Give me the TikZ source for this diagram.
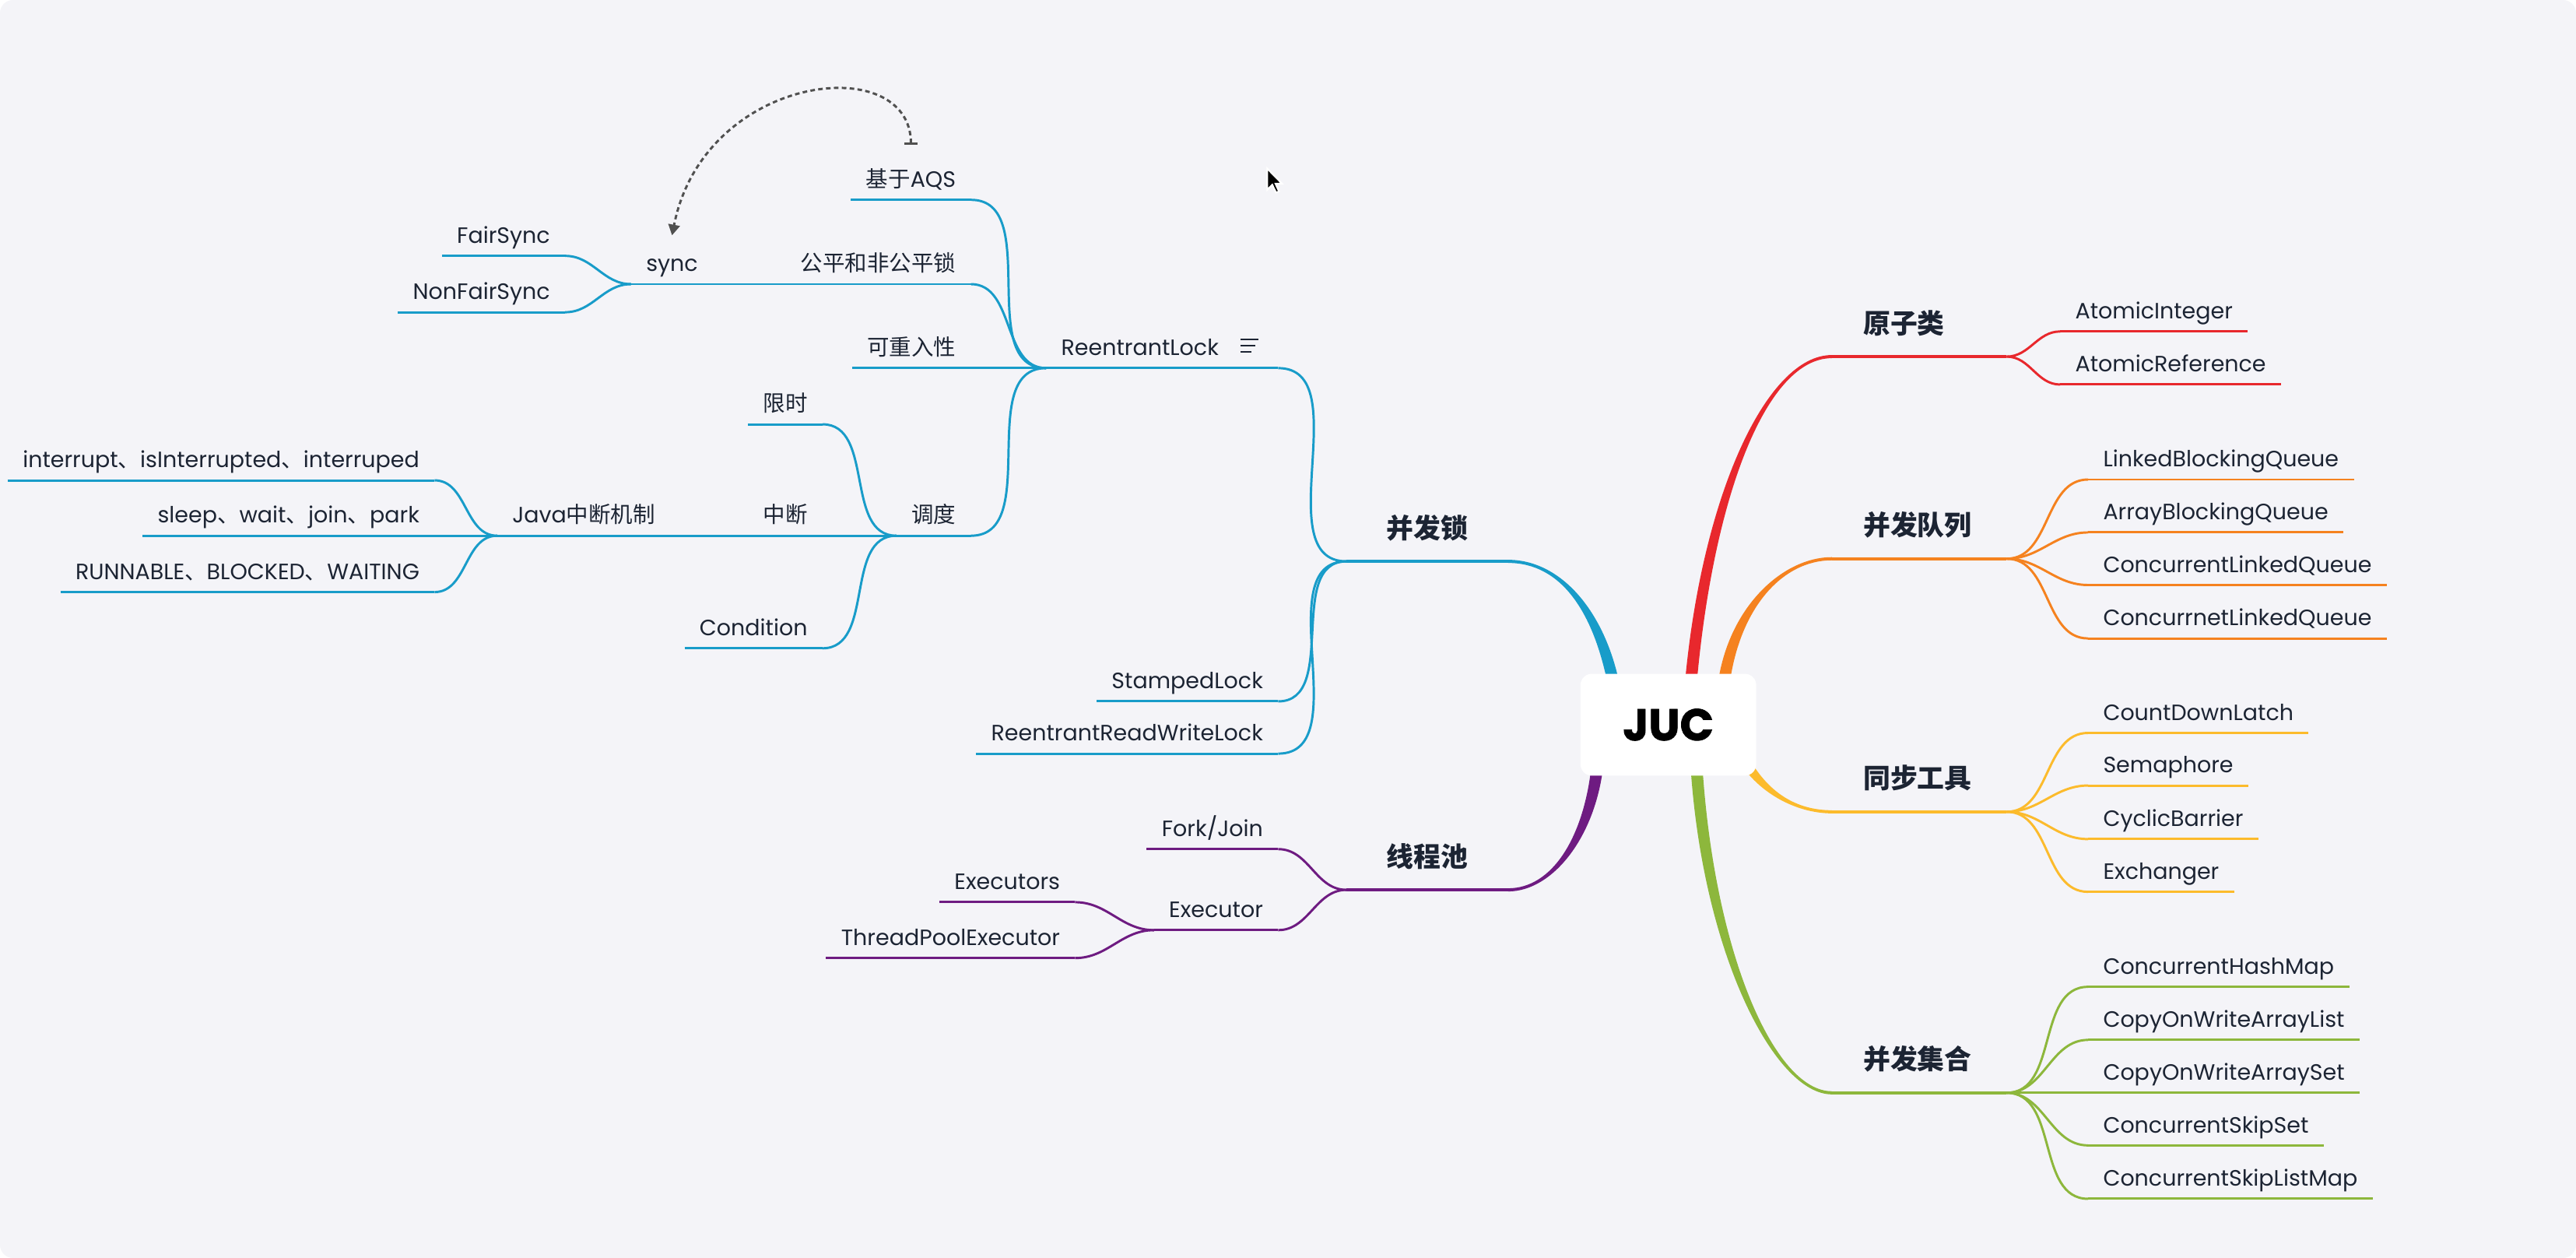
\documentclass[tikz,border=0pt]{standalone}
\usepackage{fontspec}
\setmainfont{Poppins}
\newfontfamily\cjk{Noto Sans CJK SC}
\newfontfamily\heavy[BoldFeatures={FakeBold=1.5}]{Poppins}
\usetikzlibrary{arrows.meta,calc}

\definecolor{bgcol}{HTML}{F4F4F8}
\definecolor{ink}{HTML}{1C2433}
\definecolor{cblue}{HTML}{189CC9}
\definecolor{cred}{HTML}{E8282D}
\definecolor{corange}{HTML}{F5821F}
\definecolor{cyellow}{HTML}{FCBB2C}
\definecolor{cgreen}{HTML}{8DB73C}
\definecolor{cpurple}{HTML}{6E1B81}
\definecolor{cdash}{HTML}{505050}

\newcommand{\zh}[1]{{\cjk #1}}
%tapered main branch: colour, side, start, control 1, control 2, end
\newcommand{\trunk}[6]{%
\fill[#1] ([xshift={(#2)*3.6pt}]#3) .. controls +(#4) and +(#5) .. ([yshift=0.95pt]#6)
 -- ([yshift=-0.95pt]#6) .. controls +(#5) and +(#4) .. ([xshift={-(#2)*3.6pt}]#3) -- cycle;}

\pgfdeclarelayer{back}
\pgfdeclarelayer{trunks}
\pgfsetlayers{back,trunks,main}

\begin{document}
\begin{tikzpicture}[x=1pt, y=-1pt,
  topic/.style={font=\fontsize{13.5}{16}\selectfont, text=ink, inner xsep=9pt, inner ysep=4.5pt, text height=10pt, text depth=3pt},
  ltopic/.style={topic, anchor=south east},
  rtopic/.style={topic, anchor=south west},
  major/.style={font=\cjk\bfseries\fontsize{16.5}{19}\selectfont, text=ink, inner ysep=11pt, text height=13pt, text depth=3pt},
  lmajor/.style={major, anchor=south east, minimum width=98pt},
  rmajor/.style={major, anchor=south west, inner xsep=19pt, text width=68pt, align=left},
  root/.style={fill=white, rounded corners=7pt, minimum width=107pt, minimum height=62pt, font=\heavy\bfseries\fontsize{27}{30}\selectfont, text=black},
  uline/.style={line width=1.4pt},
  bigline/.style={line width=1.9pt},
  link/.style={line width=1.4pt},
  relation/.style={cdash, line width=1.4pt, dash pattern=on 2.8pt off 2pt, {Bar[width=8pt]}-{Triangle[length=6.5pt,width=7pt]}}]

\begin{pgfonlayer}{back}
\fill[white] (0,0) rectangle (1568,765.5);
\fill[bgcol, rounded corners=8pt] (0,0) rectangle (1568,765.5);
\end{pgfonlayer}
\useasboundingbox (0,0) rectangle (1568,765.5);

%centre
\node[root] (juc) at (1015.5,441) {JUC};

%lock branch
\node[lmajor] (lock) at (918,341.6) {并发锁};
\node[ltopic] (rlock) at (778,224) {ReentrantLock\kern27pt};
\node[ltopic] (stamped) at (778,426.8) {StampedLock};
\node[ltopic] (rrwl) at (778,458.6) {ReentrantReadWriteLock};
\node[ltopic] (aqs) at (591,121.6) {\zh{基于}AQS};
\node[ltopic] (fair) at (591,172.9) {\zh{公平和非公平锁}};
\node[ltopic] (reent) at (591,224) {\zh{可重入性}};
\node[ltopic] (sched) at (591,326) {\zh{调度}};
\node[ltopic] (syncn) at (434,172.9) {sync};
\node[ltopic] (fsync) at (344,155.7) {FairSync};
\node[ltopic] (nfsync) at (344,190) {NonFairSync};
\node[ltopic] (limit) at (500.7,258.2) {\zh{限时}};
\node[ltopic] (intr) at (500.7,326) {\zh{中断}};
\node[ltopic] (cond) at (500.7,394.5) {Condition};
\node[ltopic] (jint) at (408,326) {Java\zh{中断机制}};
\node[ltopic] (int1) at (264.5,292.3) {interrupt\zh{、}isInterrupted\zh{、}interruped};
\node[ltopic] (int2) at (264.5,326) {sleep\zh{、}wait\zh{、}join\zh{、}park};
\node[ltopic] (int3) at (264.5,360.3) {RUNNABLE\zh{、}BLOCKED\zh{、}WAITING};

%pool branch
\node[lmajor] (pool) at (918,541.5) {线程池};
\node[ltopic] (fj) at (778,516.7) {Fork/Join};
\node[ltopic] (exec) at (778,566) {Executor};
\node[ltopic] (execs) at (654.4,549) {Executors};
\node[ltopic] (tpe) at (654.4,583) {ThreadPoolExecutor};

%right side
\node[rmajor] (atomic) at (1115,217) {原子类};
\node[rtopic] (ai) at (1254,201.7) {AtomicInteger};
\node[rtopic] (ar) at (1254,234) {AtomicReference};

\node[rmajor] (queue) at (1115,340) {并发队列};
\node[rtopic] (lbq) at (1271,291.8) {LinkedBlockingQueue};
\node[rtopic] (abq) at (1271,324) {ArrayBlockingQueue};
\node[rtopic] (clq) at (1271,356) {ConcurrentLinkedQueue};
\node[rtopic] (clqb) at (1271,388.5) {ConcurrnetLinkedQueue};

\node[rmajor] (tools) at (1115,494) {同步工具};
\node[rtopic] (cdl) at (1271,446) {CountDownLatch};
\node[rtopic] (sem) at (1271,478) {Semaphore};
\node[rtopic] (cb) at (1271,510.6) {CyclicBarrier};
\node[rtopic] (exch) at (1271,542.7) {Exchanger};

\node[rmajor] (coll) at (1115,665) {并发集合};
\node[rtopic] (chm) at (1271,600.5) {ConcurrentHashMap};
\node[rtopic] (cowal) at (1271,632.8) {CopyOnWriteArrayList};
\node[rtopic] (cowas) at (1271,665) {CopyOnWriteArraySet};
\node[rtopic] (csks) at (1271,697) {ConcurrentSkipSet};
\node[rtopic] (csklm) at (1271,729.5) {ConcurrentSkipListMap};

%main branches
\coordinate (t-red) at ($(juc.north)+(13.5,8)$);
\coordinate (t-orange) at ($(juc.north)+(33.5,8)$);
\coordinate (t-blue) at ($(juc.north)+(-33,8)$);
\coordinate (t-purple) at ($(juc.south)+(-43,-8)$);
\coordinate (t-green) at ($(juc.south)+(17,-8)$);
\coordinate (t-yellow) at ($(juc.east)+(-9,19)$);
\begin{pgfonlayer}{trunks}
\trunk{cred}{-1}{t-red}{10,-115}{-40,0}{atomic.south west}
\trunk{corange}{-1}{t-orange}{6,-48}{-30,0}{queue.south west}
\trunk{cblue}{1}{t-blue}{-9,-46}{32,0}{lock.south east}
\trunk{cpurple}{-1}{t-purple}{-4.5,45}{27,0}{pool.south east}
\trunk{cyellow}{1}{t-yellow}{12,22}{-22,0}{tools.south west}
\trunk{cgreen}{1}{t-green}{7,115}{-35,0}{coll.south west}
\end{pgfonlayer}

%underlines
\foreach \n/\c in {lock/cblue, pool/cpurple, atomic/cred, queue/corange, tools/cyellow, coll/cgreen}
\draw[\c, bigline] (\n.south west) -- (\n.south east);
\foreach \n in {rlock,stamped,rrwl,aqs,fair,reent,sched,syncn,fsync,nfsync,limit,intr,cond,jint,int1,int2,int3}
\draw[cblue, uline] (\n.south west) -- (\n.south east);
\foreach \n in {fj,exec,execs,tpe}
\draw[cpurple, uline] (\n.south west) -- (\n.south east);
\foreach \n/\c in {ai/cred, ar/cred, lbq/corange, abq/corange, clq/corange, clqb/corange, cdl/cyellow, sem/cyellow, cb/cyellow, exch/cyellow, chm/cgreen, cowal/cgreen, cowas/cgreen, csks/cgreen, csklm/cgreen}
\draw[\c, uline] (\n.south west) -- (\n.south east);

%links left
\foreach \p/\c in {lock/rlock, lock/stamped, lock/rrwl, rlock/aqs, rlock/fair, rlock/reent, rlock/sched, fair/syncn, syncn/fsync, syncn/nfsync, sched/limit, sched/intr, sched/cond, intr/jint, jint/int1, jint/int2, jint/int3}
\draw[cblue, link] (\p.south west) to[out=180, in=0] (\c.south east);
\foreach \p/\c in {pool/fj, pool/exec, exec/execs, exec/tpe}
\draw[cpurple, link] (\p.south west) to[out=180, in=0] (\c.south east);
%links right
\foreach \p/\c/\col in {atomic/ai/cred, atomic/ar/cred, queue/lbq/corange, queue/abq/corange, queue/clq/corange, queue/clqb/corange, tools/cdl/cyellow, tools/sem/cyellow, tools/cb/cyellow, tools/exch/cyellow, coll/chm/cgreen, coll/cowal/cgreen, coll/cowas/cgreen, coll/csks/cgreen, coll/csklm/cgreen}
\draw[\col, link] (\p.south east) to[out=0, in=180] (\c.south west);

%note icon
\foreach \dy/\len in {17.6/10.9, 13.7/9, 9.7/6.6}
\draw[ink, line width=1pt] ($(rlock.south east)+(-23,-\dy)$) -- +(\len,0);

%relation
\draw[relation] ($(aqs.north)+(0,-11)$) .. controls +(0,-58) and +(19.5,-98.6) .. ($(syncn.north)+(0,-7.3)$);

%cursor
\draw[white, line width=1pt, fill=black, shift={(771.4,102.6)}] (0,0) -- (0,12.8) -- (3,9.8) -- (5.3,14.6) -- (7.1,13.9) -- (5,9.2) -- (9,9.2) -- cycle;

\end{tikzpicture}
\end{document}
